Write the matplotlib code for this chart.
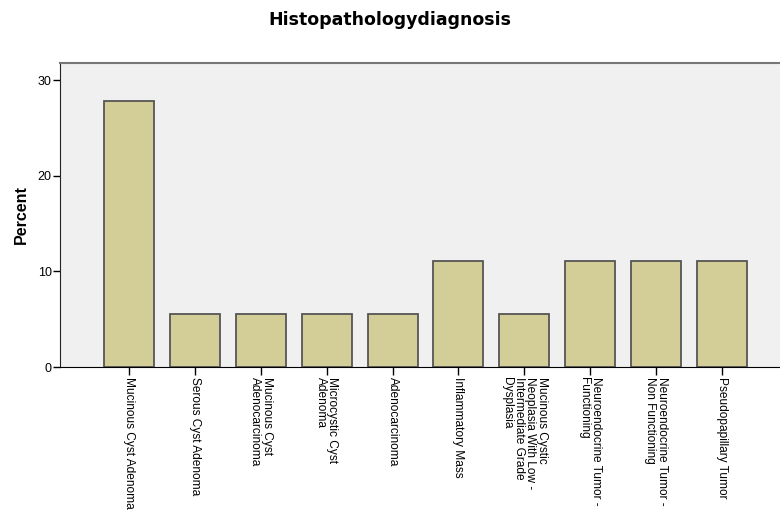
import matplotlib
matplotlib.use("Agg")
import matplotlib.pyplot as plt

plt.rcParams['font.family'] = ['Liberation Sans', 'DejaVu Sans']

categories = [
    "Mucinous Cyst Adenoma",
    "Serous Cyst Adenoma",
    "Mucinous Cyst\nAdenocarcinoma",
    "Microcystic Cyst\nAdenoma",
    "Adenocarcinoma",
    "Inflammatory Mass",
    "Mucinous Cystic\nNeoplasia With Low -\nIntermediate Grade\nDysplasia",
    "Neuroendocrine Tumor -\nFunctioning",
    "Neuroendocrine Tumor -\nNon Functioning",
    "Pseudopapillary Tumor",
]
percent = [27.78, 5.56, 5.56, 5.56, 5.56, 11.11, 5.56, 11.11, 11.11, 11.11]
yticks = [0, 10, 20, 30]

fig = plt.figure(figsize=(7.8, 5.13), dpi=100)
ax = fig.add_axes([60 / 780, 146 / 513, 1 - 60 / 780, 304 / 513])
ax.set_facecolor('#f0f0f0')

x = list(range(len(categories)))
ax.bar(x, percent, width=0.76, color='#d3ce97', edgecolor='#555555', linewidth=1.3)

ax.set_xlim(-1.047, 9.88)
ax.set_ylim(0, 31.8)
ax.set_yticks(yticks)
ax.set_xticks(x)
ax.set_xticklabels(categories, rotation=-90, ha='center', va='top',
                   multialignment='left', fontsize=8.6, linespacing=0.95)
ax.tick_params(axis='y', length=5, width=1, labelsize=9, pad=1)
ax.tick_params(axis='x', length=6, width=1, pad=1)

ax.spines['right'].set_visible(False)
ax.spines['top'].set_color('#777777')
ax.spines['top'].set_linewidth(1.5)
ax.spines['left'].set_color('#222222')
ax.spines['bottom'].set_color('#000000')

ax.set_ylabel('Percent', fontsize=11.5, fontweight='bold', labelpad=6)
fig.text(0.5, 0.961, 'Histopathologydiagnosis', ha='center', va='center',
         fontsize=12.5, fontweight='bold', family='DejaVu Sans')

fig.savefig('out.png', dpi=100)
